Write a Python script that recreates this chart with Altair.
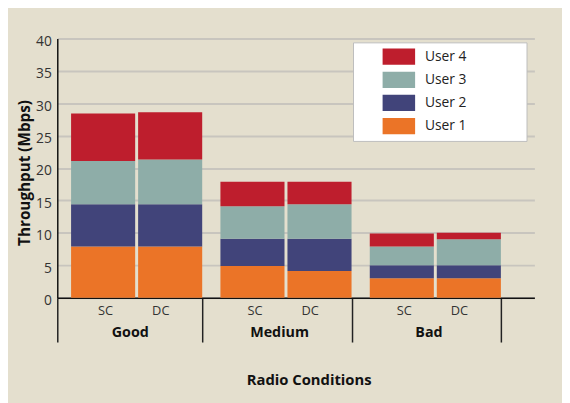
import altair as alt
import pandas as pd

groups = ["Good", "Medium", "Bad"]
subs = ["SC", "DC"]
users = ["User 1", "User 2", "User 3", "User 4"]
# values per bar in order Good-SC, Good-DC, Medium-SC, Medium-DC, Bad-SC, Bad-DC
user1 = [7.9, 7.9, 4.9, 4.1, 3.0, 3.0]
user2 = [6.5, 6.5, 4.2, 5.0, 2.0, 2.0]
user3 = [6.7, 6.9, 5.0, 5.3, 2.9, 4.0]
user4 = [7.3, 7.3, 3.8, 3.5, 2.0, 1.0]
colors = ["#EB7427", "#41447A", "#8EADA8", "#BE1E2D"]
y_ticks = [0, 5, 10, 15, 20, 25, 30, 35, 40]

series = [user1, user2, user3, user4]
rows = []
i = 0
for g in groups:
    for s in subs:
        for k, u in enumerate(users):
            rows.append({"group": g, "sub": s, "user": u, "order": k, "value": series[k][i]})
        i += 1
df = pd.DataFrame(rows)
labels_df = pd.DataFrame([{"group": g, "sub": s} for g in groups for s in subs])

W, H = 484, 263
FONT = "Open Sans"
PAD = "\u00a0" * 15 + "\u200b"

x_scale = alt.Scale(paddingInner=0.0297, paddingOuter=0.1122, align=0, round=False)

x_axis = alt.Axis(
    title="Radio Conditions", tickBand="extent", tickSize=45, tickWidth=1.5,
    tickColor="#222222", domainColor="#111111", domainWidth=1.5,
    labelPadding=-17, labelFont=FONT, labelFontSize=14.5, labelFontWeight="bold",
    labelColor="#111111", labelAngle=0, grid=False,
    titleX=255, titleY=83, titleBaseline="middle", titleFont=FONT,
    titleFontSize=15, titleFontWeight="bold", titleColor="#111111",
)

y_axis = alt.Axis(
    title="Throughput (Mbps)", values=y_ticks, ticks=False, domainColor="#111111",
    domainWidth=1.5, gridColor="#C8C5BE", gridWidth=2, labelFont=FONT,
    labelFontSize=14, labelColor="#333333", labelPadding=6, labelOffset=3,
    titleFont=FONT, titleFontSize=15.5, titleFontWeight="bold", titleColor="#111111",
    titleX=-33, titleY=136, titleBaseline="middle", titleAlign="center",
)

legend = alt.Legend(
    title=None, orient="none", legendX=300, legendY=4, fillColor="#FFFFFF",
    strokeColor="#BDBDBD", padding=6, symbolType="M-2,-1H2V1H-2Z",
    symbolSize=272, symbolStrokeWidth=0, symbolOpacity=1, symbolOffset=32,
    labelOffset=18, rowPadding=6.5, labelFont=FONT, labelFontSize=14,
    labelColor="#222222", labelExpr="datum.label + '" + PAD + "'", labelLimit=0,
)

bars = alt.Chart(df).mark_bar(opacity=1).encode(
    x=alt.X("group:N", sort=groups, scale=x_scale, axis=x_axis),
    xOffset=alt.XOffset(
        "sub:N", sort=subs,
        scale=alt.Scale(paddingInner=0.0441, paddingOuter=0.1029, align=1, round=False),
    ),
    y=alt.Y("value:Q", stack="zero", scale=alt.Scale(domain=[0, 40]), axis=y_axis),
    color=alt.Color("user:N", scale=alt.Scale(domain=users[::-1], range=colors[::-1]), legend=legend),
    order=alt.Order("order:Q"),
)

text = alt.Chart(labels_df).mark_text(
    font=FONT, fontSize=13, color="#333333", baseline="middle", dx=3.5
).encode(
    x=alt.X("group:N", sort=groups),
    xOffset=alt.XOffset("sub:N", sort=subs, scale=alt.Scale(type="point", padding=0.8125)),
    y=alt.value(H + 14),
    text="sub:N",
)

chart = alt.layer(bars, text).resolve_scale(xOffset="independent").properties(
    width=W, height=H,
    autosize=alt.AutoSizeParams(type="none"),
    padding={"left": 50, "top": 28, "right": 28, "bottom": 104},
    background="#E4DFCE",
).configure_view(stroke=None)

chart.save("out.html", embed_options={"renderer": "svg", "actions": False})
